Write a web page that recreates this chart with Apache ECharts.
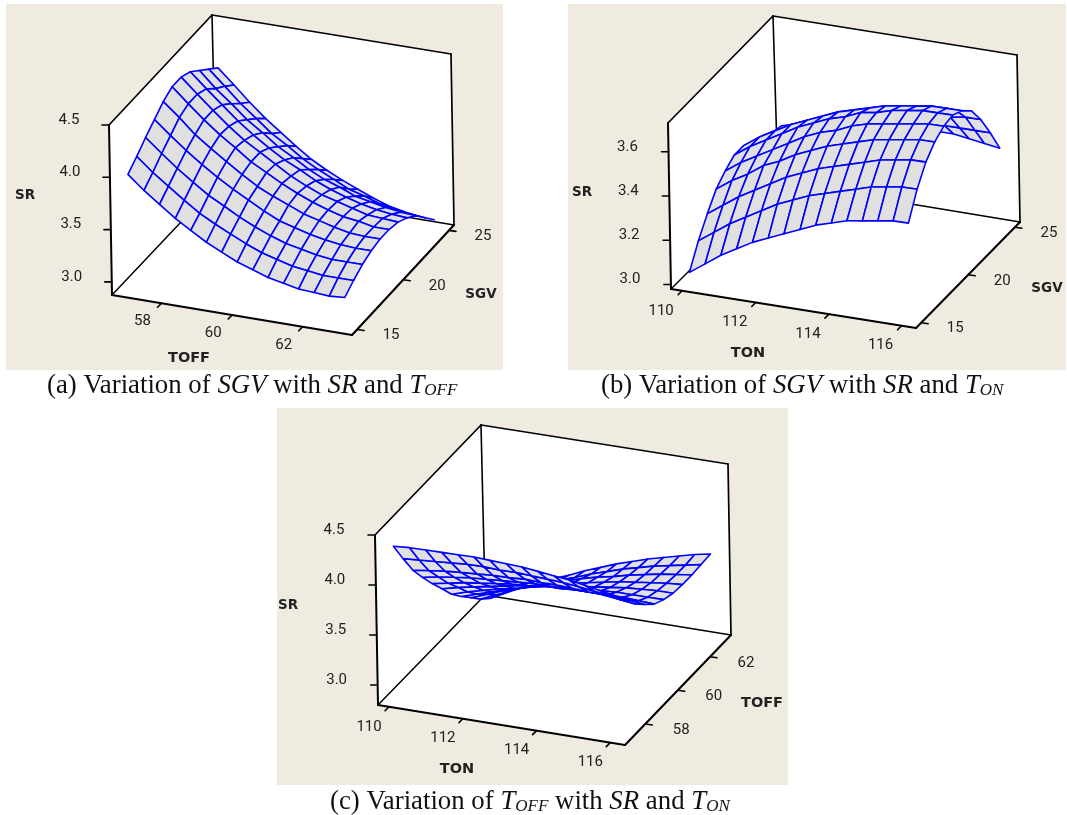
<!DOCTYPE html>
<html><head><meta charset="utf-8">
<style>html,body{margin:0;padding:0;background:#fff}#c{width:1067px;height:815px}</style>
<script src="https://cdn.jsdelivr.net/npm/echarts@6/dist/echarts.min.js"></script>
</head><body><div id="c"></div>
<script>
// ---------- values ----------
const toffGridA=[56.8,57.24,57.67,58.11,58.54,58.98,59.41,59.85,60.29,60.72,61.16,61.59,62.03,62.46,62.9];
const sgvGrid=[15.6,16.57,17.54,18.51,19.48,20.45,21.42,22.39,23.36,24.33,25.3];
const tonGrid=[109.9,110.33,110.76,111.19,111.62,112.05,112.48,112.92,113.35,113.78,114.21,114.64,115.07,115.5,115.93];
const toffGridC=[57.4,57.98,58.55,59.13,59.71,60.29,60.86,61.44,62.02,62.59,63.17];
// SR: one row per value of the depth variable
const srA=[
[3.93,3.80,3.69,3.58,3.49,3.40,3.33,3.26,3.21,3.16,3.13,3.10,3.09,3.08,3.09],
[4.01,3.88,3.77,3.66,3.56,3.48,3.41,3.34,3.28,3.24,3.20,3.18,3.16,3.16,3.16],
[4.10,3.97,3.85,3.74,3.64,3.56,3.48,3.41,3.35,3.30,3.27,3.24,3.22,3.22,3.22],
[4.18,4.05,3.93,3.82,3.72,3.63,3.55,3.47,3.40,3.36,3.32,3.29,3.27,3.26,3.26],
[4.26,4.13,3.99,3.88,3.78,3.68,3.59,3.52,3.46,3.40,3.36,3.32,3.29,3.28,3.28],
[4.31,4.17,4.04,3.92,3.82,3.71,3.63,3.55,3.48,3.42,3.37,3.33,3.31,3.28,3.28],
[4.31,4.17,4.04,3.91,3.80,3.71,3.62,3.53,3.46,3.40,3.36,3.32,3.28,3.27,3.26],
[4.27,4.13,4.00,3.87,3.76,3.66,3.57,3.50,3.42,3.36,3.31,3.27,3.24,3.22,3.21],
[4.19,4.04,3.92,3.79,3.69,3.58,3.50,3.41,3.34,3.29,3.23,3.20,3.17,3.15,3.14],
[4.11,3.97,3.83,3.71,3.59,3.50,3.40,3.32,3.25,3.18,3.14,3.09,3.06,3.04,3.03],
[4.03,3.89,3.75,3.62,3.51,3.40,3.30,3.22,3.15,3.09,3.03,2.98,2.95,2.93,2.92]];
const srB=[
[3.01,3.06,3.11,3.15,3.19,3.22,3.25,3.28,3.31,3.33,3.35,3.36,3.37,3.38,3.38],
[3.11,3.16,3.21,3.25,3.29,3.33,3.36,3.39,3.41,3.43,3.45,3.47,3.48,3.49,3.49],
[3.19,3.24,3.29,3.33,3.37,3.41,3.44,3.47,3.49,3.51,3.53,3.55,3.56,3.57,3.57],
[3.26,3.31,3.35,3.40,3.43,3.47,3.50,3.53,3.55,3.57,3.59,3.60,3.61,3.62,3.62],
[3.30,3.35,3.39,3.43,3.47,3.51,3.54,3.56,3.59,3.61,3.62,3.63,3.64,3.65,3.65],
[3.33,3.38,3.42,3.46,3.50,3.53,3.56,3.58,3.61,3.62,3.64,3.65,3.66,3.66,3.66],
[3.33,3.38,3.42,3.46,3.49,3.52,3.55,3.57,3.59,3.61,3.62,3.63,3.64,3.64,3.64],
[3.31,3.35,3.39,3.42,3.45,3.47,3.50,3.52,3.54,3.56,3.57,3.58,3.58,3.59,3.60],
[3.29,3.33,3.36,3.39,3.41,3.43,3.45,3.47,3.49,3.50,3.51,3.51,3.51,3.52,3.52],
[3.26,3.29,3.32,3.34,3.36,3.38,3.39,3.41,3.42,3.42,3.43,3.42,3.42,3.42,3.42],
[3.25,3.27,3.29,3.31,3.32,3.33,3.34,3.35,3.35,3.35,3.34,3.34,3.33,3.32,3.31]];
const srC=[
[4.29,4.30,4.30,4.30,4.30,4.30,4.29,4.28,4.27,4.25,4.23,4.21,4.18,4.15,4.12],
[4.07,4.08,4.09,4.10,4.11,4.11,4.10,4.10,4.09,4.08,4.07,4.05,4.03,4.01,3.98],
[3.86,3.88,3.90,3.91,3.92,3.93,3.93,3.94,3.93,3.93,3.92,3.91,3.90,3.88,3.86],
[3.69,3.72,3.74,3.76,3.77,3.78,3.79,3.80,3.80,3.80,3.80,3.80,3.79,3.78,3.76],
[3.53,3.56,3.59,3.61,3.63,3.65,3.66,3.68,3.68,3.69,3.69,3.69,3.69,3.68,3.67],
[3.38,3.42,3.45,3.48,3.51,3.54,3.56,3.58,3.59,3.60,3.61,3.62,3.62,3.62,3.62],
[3.23,3.28,3.32,3.36,3.39,3.43,3.46,3.49,3.51,3.53,3.55,3.57,3.58,3.59,3.59],
[3.11,3.16,3.21,3.26,3.30,3.34,3.39,3.42,3.45,3.48,3.51,3.53,3.55,3.57,3.58],
[3.00,3.06,3.12,3.18,3.23,3.28,3.32,3.37,3.41,3.44,3.48,3.51,3.54,3.56,3.58],
[2.89,2.96,3.03,3.09,3.15,3.21,3.26,3.32,3.37,3.42,3.46,3.50,3.53,3.56,3.59],
[2.80,2.88,2.96,3.03,3.10,3.16,3.23,3.29,3.35,3.40,3.45,3.49,3.53,3.57,3.60]];
const ticksToff=[58,60,62], ticksSgv=[15,20,25], ticksTon=[110,112,114,116];
const ticksSrA=['3.0','3.5','4.0','4.5'], ticksSrB=['3.0','3.2','3.4','3.6'], ticksSrC=['3.0','3.5','4.0','4.5'];

// ---------- layout of the three panels ----------
const panels=[
 {rect:[6,4,497,366],
  floor:[[112,295],[352,335],[454,225],[216,185]], ceil:[[109,125],[349,160],[451,54],[212,15]],
  xr:[56.6,63.4],yr:[14.45,25.55],zr:[2.875,4.5],
  xs:toffGridA,ys:sgvGrid,zs:srA,xt:ticksToff,yt:ticksSgv,zt:ticksSrA,
  xo:[-19,18],yo:[34,6],zo:[-40,-5],names:[['SR',25,195,13.5],['TOFF',189,358,14.5],['SGV',481,294,13.5]]},
 {rect:[568,4,498,366],
  floor:[[671,289],[916,328],[1020,222],[778,182]], ceil:[[668,123],[913,156],[1017,55],[773,16]],
  xr:[109.7,116.4],yr:[14.45,25.55],zr:[2.98,3.73],
  xs:tonGrid,ys:sgvGrid,zs:srB,xt:ticksTon,yt:ticksSgv,zt:ticksSrB,
  xo:[-21,20],yo:[34,6],zo:[-41,-5],names:[['SR',582,192,13.5],['TON',748,353,14.5],['SGV',1047,288,13.5]]},
 {rect:[277,408,511,377],
  floor:[[378,705],[625,745],[731,635],[485,595]], ceil:[[375,535],[622,570],[728,464],[481,425]],
  xr:[109.7,116.4],yr:[56.75,63.3],zr:[2.8,4.5],
  xs:tonGrid,ys:toffGridC,zs:srC,xt:ticksTon,yt:ticksToff,zt:ticksSrC,
  xo:[-20,20],yo:[36,6],zo:[-41,-5],names:[['SR',288,605,13.5],['TON',457,769,14.5],['TOFF',762,703,14.5]]}
];
const captions=[
 {left:47,top:373,text:'(a) Variation of {i|SGV} with {i|SR} and {i|T}{s|OFF}'},
 {left:601,top:373,text:'(b) Variation of {i|SGV} with {i|SR} and {i|T}{s|ON}'},
 {left:330,top:789,text:'(c) Variation of {i|T}{s|OFF} with {i|SR} and {i|T}{s|ON}'}
];

// ---------- projection ----------
function homography(q){
 const [x0,y0]=q[0],[x1,y1]=q[1],[x2,y2]=q[2],[x3,y3]=q[3];
 const dx1=x1-x2,dx2=x3-x2,sx=x0-x1+x2-x3,dy1=y1-y2,dy2=y3-y2,sy=y0-y1+y2-y3;
 const D=dx1*dy2-dx2*dy1,g=(sx*dy2-dx2*sy)/D,h=(dx1*sy-sx*dy1)/D;
 const a=x1-x0+g*x1,b=x3-x0+h*x3,d=y1-y0+g*y1,e=y3-y0+h*y3;
 return (u,v)=>{const w=g*u+h*v+1;return [(a*u+b*v+x0)/w,(d*u+e*v+y0)/w];};
}
panels.forEach(p=>{
 const H0=homography(p.floor),H1=homography(p.ceil);
 p.uvw=(u,v,w)=>{const f=H0(u,v),c=H1(u,v);return [f[0]+(c[0]-f[0])*w,f[1]+(c[1]-f[1])*w];};
 p.proj=(x,y,z)=>p.uvw((x-p.xr[0])/(p.xr[1]-p.xr[0]),(y-p.yr[0])/(p.yr[1]-p.yr[0]),(z-p.zr[0])/(p.zr[1]-p.zr[0]));
});

const labelColor='#222';
const tickFont='15px Roboto';
const grids=[],xAxes=[],yAxes=[],series=[];
panels.forEach((p,n)=>{
 const [l,t,w,h]=p.rect;
 grids.push({left:l,top:t,width:w,height:h,show:true,backgroundColor:'#efebe1',borderWidth:0,containLabel:false});
 xAxes.push({gridIndex:n,type:'value',min:l,max:l+w,show:false});
 yAxes.push({gridIndex:n,type:'value',min:t,max:t+h,inverse:true,show:false});
 const base={type:'custom',coordinateSystem:'cartesian2d',xAxisIndex:n,yAxisIndex:n,silent:true,clip:false,animation:false};
 const line=(a,b,lw,api)=>{const A=api.coord(a),B=api.coord(b);
   return {type:'line',shape:{x1:A[0],y1:A[1],x2:B[0],y2:B[1]},style:{stroke:'#000',lineWidth:lw,lineCap:'round'}};};
 const text=(s,at,font,api)=>{const P=api.coord(at);
   return {type:'text',style:{x:P[0],y:P[1],text:s,font:font,fill:labelColor,textAlign:'center',textVerticalAlign:'middle'}};};
 // walls and floor
 series.push(Object.assign({},base,{data:[[0]],z:1,renderItem:(ps,api)=>{
   const c=a=>api.coord(a),F=p.floor,C=p.ceil;
   const poly=pts=>({type:'polygon',shape:{points:pts.map(c)},style:{fill:'#fff',stroke:null}});
   return {type:'group',children:[
     poly([F[0],F[1],F[2],F[3]]),poly([F[0],F[3],C[3],C[0]]),poly([F[3],F[2],C[2],C[3]]),
     line(F[0],F[3],1.5,api),line(F[3],F[2],1.5,api),line(F[3],C[3],1.6,api),
     line(C[0],C[3],1.7,api),line(C[3],C[2],1.7,api),line(C[2],F[2],1.7,api),
     line(F[0],C[0],2,api),line(F[0],F[1],2.1,api),line(F[1],F[2],2.1,api)
   ]};}}));
 // surface, far cells first
 const cells=[];
 for(let j=p.ys.length-2;j>=0;j--)for(let i=0;i<p.xs.length-1;i++)cells.push([i,j]);
 series.push(Object.assign({},base,{data:cells,z:3,progressive:0,renderItem:(ps,api)=>{
   const i=api.value(0),j=api.value(1);
   const pt=(a,b)=>api.coord(p.proj(p.xs[a],p.ys[b],p.zs[b][a]));
   return {type:'polygon',shape:{points:[pt(i,j),pt(i+1,j),pt(i+1,j+1),pt(i,j+1)]},
     style:{fill:'#e0e0e0',stroke:'#0000ff',lineWidth:1.6,lineJoin:'round'}};}}));
 // ticks and tick labels on the three axes
 const tickSeries=(vals,posOf,d,off)=>series.push(Object.assign({},base,{data:vals.map((v,k)=>[k]),z:4,renderItem:(ps,api)=>{
   const v=vals[api.value(0)],P=posOf(+v);
   return {type:'group',children:[line(P,[P[0]+d[0],P[1]+d[1]],1.6,api),
     text(String(v),[P[0]+off[0],P[1]+off[1]],tickFont,api)]};}}));
 tickSeries(p.xt,v=>p.proj(v,p.yr[0],p.zr[0]),[-4,4],p.xo);
 tickSeries(p.yt,v=>p.proj(p.xr[1],v,p.zr[0]),[7,1],p.yo);
 tickSeries(p.zt,v=>p.proj(p.xr[0],p.yr[0],v),[-7,0],p.zo);
 // axis names
 series.push(Object.assign({},base,{data:p.names.map((_,k)=>[k]),z:4,renderItem:(ps,api)=>{
   const m=p.names[api.value(0)];return text(m[0],[m[1],m[2]],'bold '+m[3]+'px "DejaVu Sans"',api);}}));
});
const chart=echarts.init(document.getElementById('c'),null,{renderer:'canvas'});
chart.setOption({animation:false,backgroundColor:'#fff',grid:grids,xAxis:xAxes,yAxis:yAxes,series:series,
 title:captions.map(c=>({left:c.left,top:c.top,padding:0,text:c.text,
   textStyle:{fontFamily:'"Liberation Serif"',fontSize:26.8,fontWeight:'normal',color:'#111',lineHeight:26,
     rich:{i:{fontFamily:'"Liberation Serif"',fontStyle:'italic',fontSize:26.8,color:'#111'},
           s:{fontFamily:'"Liberation Serif"',fontStyle:'italic',fontSize:17,color:'#111',verticalAlign:'bottom',lineHeight:20}}}}))
});
</script></body></html>
